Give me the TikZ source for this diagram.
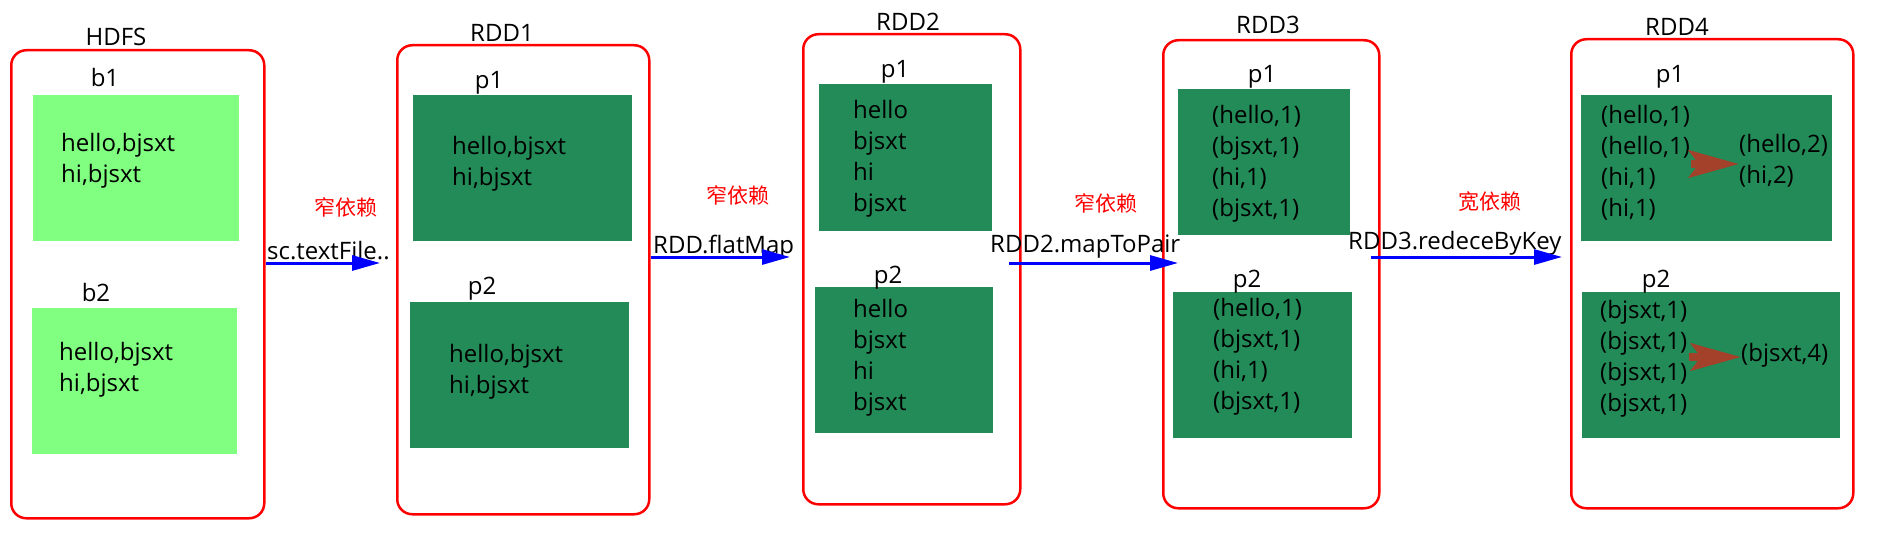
\documentclass[tikz,border=0pt]{standalone}
\usepackage{fontspec}
\setmainfont{Open Sans}
\newfontfamily\cjk{Noto Sans CJK SC}
\usetikzlibrary{arrows.meta}
\definecolor{lgreen}{HTML}{80FF80}
\definecolor{dgreen}{HTML}{228B57}
\definecolor{ared}{HTML}{A3412B}
\begin{document}
\begin{tikzpicture}[x=1pt,y=-1pt,
  container/.style={draw=red, line width=2.5pt, rounded corners=15pt, anchor=north west, inner sep=0pt},
  part/.style={anchor=north west, inner sep=0pt, draw=none},
  lightpart/.style={part, fill=lgreen},
  darkpart/.style={part, fill=dgreen},
  ttl/.style={font=\fontsize{24}{31}\selectfont, inner sep=0pt},
  txt/.style={font=\fontsize{24}{31}\selectfont, align=left, anchor=west, inner sep=0pt},
  dep/.style={font=\cjk\fontsize{21}{24}\selectfont, text=red, inner sep=0pt},
  op/.style={font=\fontsize{24}{28}\selectfont, anchor=west, inner sep=0pt},
  flow/.style={draw=blue, line width=3pt, -{Triangle[length=28pt,width=15pt]}},
  reduce/.style={draw=ared, line width=8pt, -{Stealth[length=50pt,width=27pt,inset=10pt]}},
]
\useasboundingbox (0,0) rectangle (1882,535);

% containers
\node[container, minimum width=253pt, minimum height=468pt] (hdfs) at (10,49) {};
\node[container, minimum width=252pt, minimum height=469pt] (rdd1) at (396,44) {};
\node[container, minimum width=217pt, minimum height=470pt] (rdd2) at (802,33) {};
\node[container, minimum width=216pt, minimum height=468pt] (rdd3) at (1162,39) {};
\node[container, minimum width=282pt, minimum height=469pt] (rdd4) at (1570,38) {};

% titles
\node[ttl] (thdfs) at (116,37) {HDFS};
\node[ttl] (trdd1) at (502,33) {RDD1};
\node[ttl] (trdd2) at (908,22) {RDD2};
\node[ttl] (trdd3) at (1268,25) {RDD3};
\node[ttl] (trdd4) at (1677,27) {RDD4};

% partition boxes
\node[lightpart, minimum width=206pt, minimum height=146pt] (b1) at (33,95) {};
\node[lightpart, minimum width=205pt, minimum height=146pt] (b2) at (32,308) {};
\node[darkpart, minimum width=219pt, minimum height=146pt] (r1p1) at (413,95) {};
\node[darkpart, minimum width=219pt, minimum height=146pt] (r1p2) at (410,302) {};
\node[darkpart, minimum width=173pt, minimum height=147pt] (r2p1) at (819,84) {};
\node[darkpart, minimum width=178pt, minimum height=146pt] (r2p2) at (815,287) {};
\node[darkpart, minimum width=172pt, minimum height=146pt] (r3p1) at (1178,89) {};
\node[darkpart, minimum width=179pt, minimum height=146pt] (r3p2) at (1173,292) {};
\node[darkpart, minimum width=251pt, minimum height=146pt] (r4p1) at (1581,95) {};
\node[darkpart, minimum width=258pt, minimum height=146pt] (r4p2) at (1582,292) {};

% partition labels
\node[ttl] (lb1) at (105,77) {b1};
\node[ttl] (lb2) at (96,292) {b2};
\node[ttl] (l1p1) at (489,83) {p1};
\node[ttl] (l1p2) at (482,289) {p2};
\node[ttl] (l2p1) at (895,72) {p1};
\node[ttl] (l2p2) at (888,278) {p2};
\node[ttl] (l3p1) at (1262,77) {p1};
\node[ttl] (l3p2) at (1247,282) {p2};
\node[ttl] (l4p1) at (1670,77) {p1};
\node[ttl] (l4p2) at (1656,282) {p2};

% contents
\node[txt] (b1t) at (61,161) {hello,bjsxt\\hi,bjsxt};
\node[txt] (b2t) at (59,370) {hello,bjsxt\\hi,bjsxt};
\node[txt] (r1p1t) at (452,164) {hello,bjsxt\\hi,bjsxt};
\node[txt] (r1p2t) at (449,372) {hello,bjsxt\\hi,bjsxt};
\node[txt] (r2p1t) at (853,159) {hello\\bjsxt\\hi\\bjsxt};
\node[txt] (r2p2t) at (853,358) {hello\\bjsxt\\hi\\bjsxt};
\node[txt] (r3p1t) at (1212,164) {(hello,1)\\(bjsxt,1)\\(hi,1)\\(bjsxt,1)};
\node[txt] (r3p2t) at (1213,357) {(hello,1)\\(bjsxt,1)\\(hi,1)\\(bjsxt,1)};
\node[txt] (r4p1t) at (1601,163) {(hello,1)\\(hello,1)\\(hi,1)\\(hi,1)};
\node[txt] (r4p2t) at (1600,359) {(bjsxt,1)\\(bjsxt,1)\\(bjsxt,1)\\(bjsxt,1)};
\node[txt] (r4res1) at (1739,161) {(hello,2)\\(hi,2)};
\node[txt] (r4res2) at (1741,355) {(bjsxt,4)};

% dependency labels
\node[dep] (d1) at (346,207) {窄依赖};
\node[dep] (d2) at (738,195) {窄依赖};
\node[dep] (d3) at (1106,203) {窄依赖};
\node[dep] (d4) at (1490,202) {宽依赖};

% operation labels
\node[op] (o1) at (267,251) {sc.textFile..};
\node[op] (o2) at (653,247) {RDD.flatMap};
\node[op] (o3) at (990,247) {RDD2.mapToPair};
\node[op] (o4) at (1348,243) {RDD3.redeceByKey};

% arrow end points
\coordinate (a1s) at (hdfs.east |- 0,263);
\coordinate (a1e) at (380,263);
\coordinate (a2s) at (rdd1.east |- 0,257);
\coordinate (a2e) at (790,257);
\coordinate (a3s) at (1009,263);
\coordinate (a3e) at (r3p1.west |- 0,263);
\coordinate (a4s) at (1371,257);
\coordinate (a4e) at (1562,257);

\draw[flow] (a1s) -- (a1e);
\draw[flow] (a2s) -- (a2e);
\draw[flow] (a3s) -- (a3e);
\draw[flow] (a4s) -- (a4e);

% reduce arrows
\draw[reduce] ([xshift=1pt]r4p1t.east |- 0,164) -- (r4res1.west |- 0,164);
\draw[reduce] ([xshift=1pt]r4p2t.east |- 0,357) -- (r4res2.west |- 0,357);
\end{tikzpicture}
\end{document}
